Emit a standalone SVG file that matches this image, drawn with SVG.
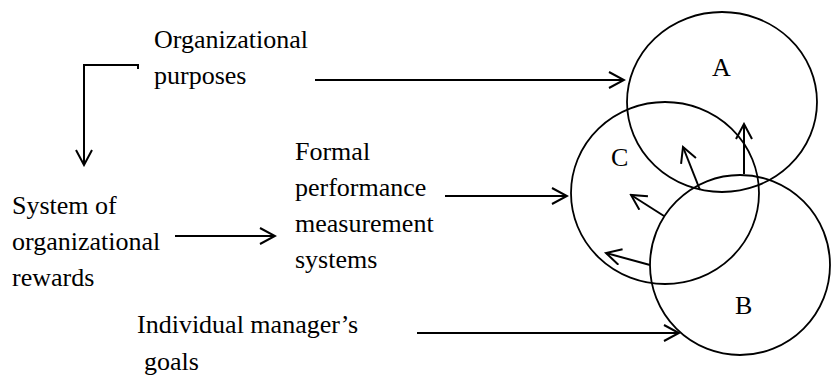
<svg xmlns="http://www.w3.org/2000/svg" width="832" height="377" viewBox="0 0 832 377">
<style>
text{font-family:"Liberation Serif","Times New Roman",serif;font-size:26px;fill:#000}
.c{fill:none;stroke:#000;stroke-width:1.8}
.l{fill:none;stroke:#000;stroke-width:2}
</style>
<defs>
<marker id="ah" viewBox="-16 -9 18 18" markerWidth="18" markerHeight="18" refX="0" refY="0" orient="auto" markerUnits="userSpaceOnUse">
<path d="M-15,-8 L0,0 L-15,8" fill="none" stroke="#000" stroke-width="2"/>
</marker>
</defs>
<rect width="832" height="377" fill="#fff"/>
<g id="circleA"><ellipse class="c" cx="722" cy="102" rx="95" ry="90"/><text x="712" y="76">A</text></g>
<g id="circleC"><ellipse class="c" cx="665" cy="193" rx="94" ry="91"/><text x="611" y="166">C</text></g>
<g id="circleB"><ellipse class="c" cx="740" cy="265" rx="90" ry="90"/><text x="735" y="314">B</text></g>
<g id="purposes"><text x="154" y="48">Organizational</text><text x="154" y="84">purposes</text></g>
<g id="rewards"><text x="12" y="214">System of</text><text x="12" y="250">organizational</text><text x="12" y="286">rewards</text></g>
<g id="formal"><text x="295" y="160">Formal</text><text x="295" y="196">performance</text><text x="295" y="232">measurement</text><text x="295" y="268">systems</text></g>
<g id="goals"><text x="137" y="333">Individual manager’s</text><text x="144" y="370">goals</text></g>
<g id="connectors">
<path class="l" d="M138,69 L138,65 L84,65 L84,165" marker-end="url(#ah)"/>
<path class="l" d="M315,80 L624,80" marker-end="url(#ah)"/>
<path class="l" d="M175,236 L275,236" marker-end="url(#ah)"/>
<path class="l" d="M445,196 L567,196" marker-end="url(#ah)"/>
<path class="l" d="M417,333 L679,333" marker-end="url(#ah)"/>
<path class="l" d="M744,174 L744,124" marker-end="url(#ah)"/>
<path class="l" d="M700,190 L683,147" marker-end="url(#ah)"/>
<path class="l" d="M664,216 L631,195" marker-end="url(#ah)"/>
<path class="l" d="M650,265 L606,253" marker-end="url(#ah)"/>
</g>
</svg>
